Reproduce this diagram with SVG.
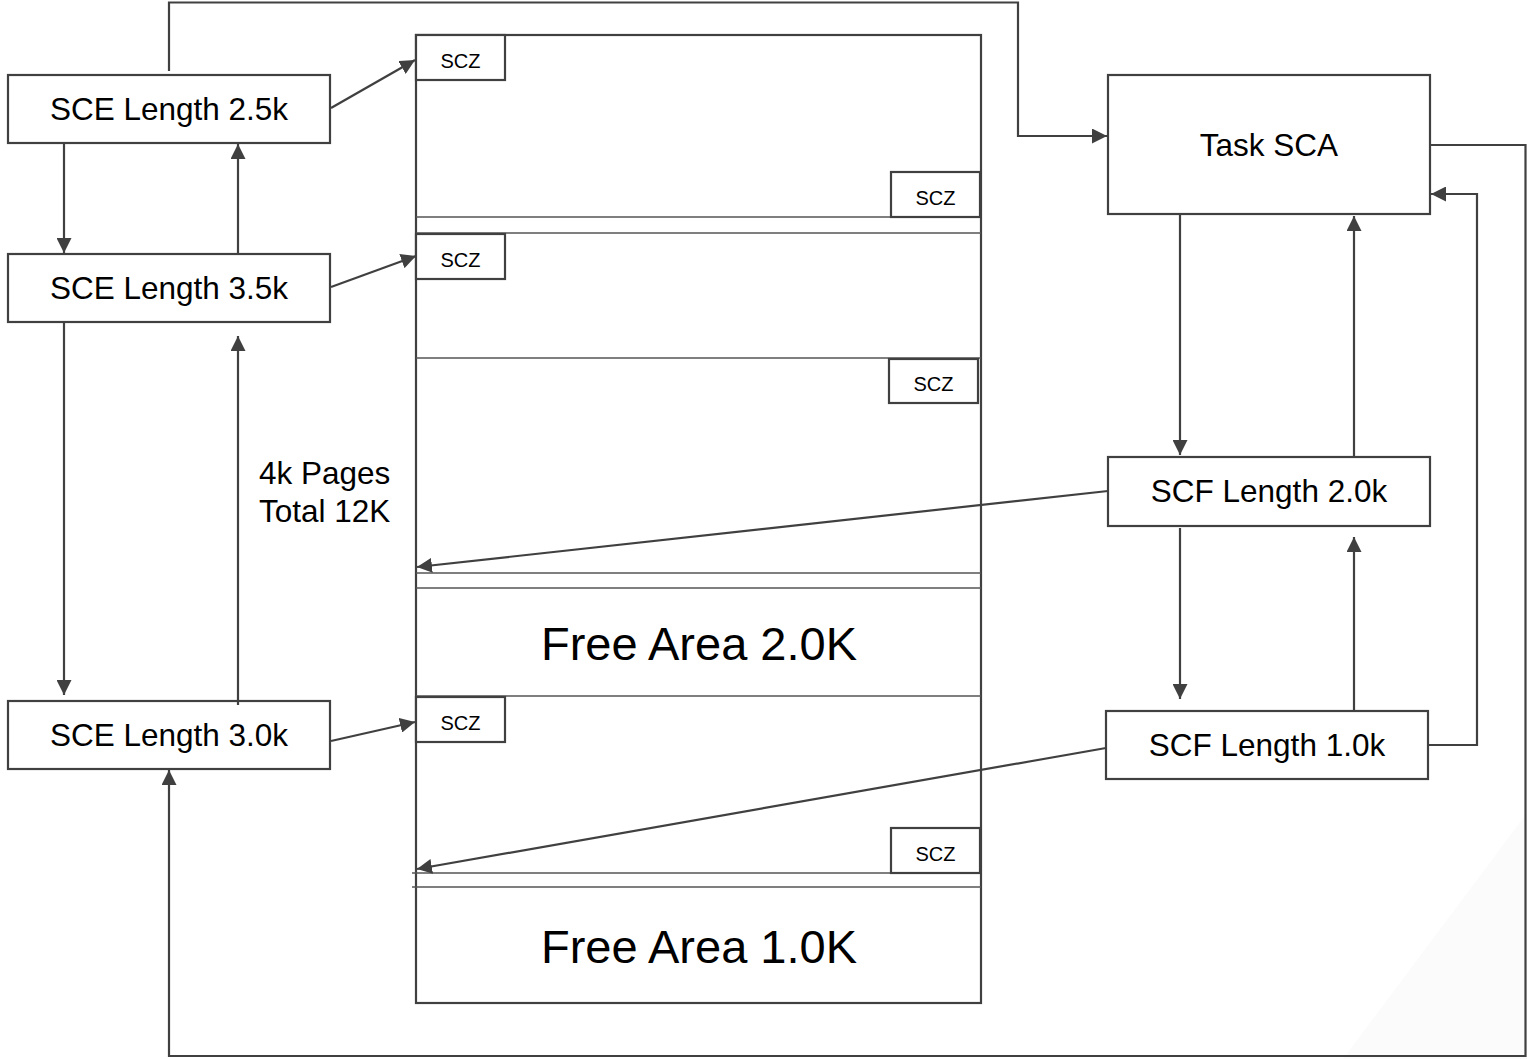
<svg xmlns="http://www.w3.org/2000/svg" width="1527" height="1059" viewBox="0 0 1527 1059">
  <style>
    .box { fill: #ffffff; stroke: #404040; stroke-width: 2.2; }
    .lbl { font-family: "Liberation Sans", Arial, sans-serif; font-size: 31.5px; fill: #000000; text-anchor: middle; }
    .note { font-family: "Liberation Sans", Arial, sans-serif; font-size: 31.5px; fill: #000000; }
    .scz { font-family: "Liberation Sans", Arial, sans-serif; font-size: 20px; fill: #000000; text-anchor: middle; }
    .free { font-family: "Liberation Sans", Arial, sans-serif; font-size: 47px; fill: #000000; text-anchor: middle; }
    .sep { stroke: #555555; stroke-width: 1.5; fill: none; }
    .conn { fill: none; stroke: #404040; stroke-width: 2.2; marker-end: url(#arr); }
  </style>
  <defs>
    <marker id="arr" markerUnits="userSpaceOnUse" markerWidth="15" markerHeight="15" refX="15" refY="7.5" orient="auto">
      <path d="M0,0 L15,7.5 L0,15 Z" fill="#404040"/>
    </marker>
  </defs>

  <rect width="1527" height="1059" fill="#ffffff"/>
  <!-- faint corner shading -->
  <polygon points="1527,813 1527,1059 1343,1059" fill="#fbfbfb"/>

  <!-- memory column -->
  <g id="memory">
    <rect class="box" x="416" y="35" width="565" height="968"/>
    <line class="sep" x1="416" y1="217" x2="981" y2="217"/>
    <line class="sep" x1="416" y1="233" x2="981" y2="233"/>
    <line class="sep" x1="416" y1="358" x2="981" y2="358"/>
    <line class="sep" x1="416" y1="573" x2="981" y2="573"/>
    <line class="sep" x1="416" y1="588" x2="981" y2="588"/>
    <line class="sep" x1="416" y1="696" x2="981" y2="696"/>
    <line class="sep" x1="412" y1="873" x2="981" y2="873"/>
    <line class="sep" x1="412" y1="887" x2="981" y2="887"/>
    <text class="free" x="699" y="660">Free Area 2.0K</text>
    <text class="free" x="699" y="963">Free Area 1.0K</text>
  </g>

  <g id="scz1"><rect class="box" x="416" y="35" width="89" height="45"/><text class="scz" x="460.5" y="68">SCZ</text></g>
  <g id="scz2"><rect class="box" x="891" y="172" width="89" height="45"/><text class="scz" x="935.5" y="205">SCZ</text></g>
  <g id="scz3"><rect class="box" x="416" y="234" width="89" height="45"/><text class="scz" x="460.5" y="267">SCZ</text></g>
  <g id="scz4"><rect class="box" x="889" y="359" width="89" height="44"/><text class="scz" x="933.5" y="391">SCZ</text></g>
  <g id="scz5"><rect class="box" x="416" y="697" width="89" height="45"/><text class="scz" x="460.5" y="730">SCZ</text></g>
  <g id="scz6"><rect class="box" x="891" y="828" width="89" height="45"/><text class="scz" x="935.5" y="861">SCZ</text></g>

  <!-- SCE chain -->
  <g id="sce25"><rect class="box" x="8" y="75" width="322" height="68"/><text class="lbl" x="169" y="120">SCE Length 2.5k</text></g>
  <g id="sce35"><rect class="box" x="8" y="254" width="322" height="68"/><text class="lbl" x="169" y="299">SCE Length 3.5k</text></g>
  <g id="sce30"><rect class="box" x="8" y="701" width="322" height="68"/><text class="lbl" x="169" y="746">SCE Length 3.0k</text></g>

  <!-- SCF chain and task -->
  <g id="task"><rect class="box" x="1108" y="75" width="322" height="139"/><text class="lbl" x="1269" y="156">Task SCA</text></g>
  <g id="scf20"><rect class="box" x="1108" y="457" width="322" height="69"/><text class="lbl" x="1269" y="502">SCF Length 2.0k</text></g>
  <g id="scf10"><rect class="box" x="1106" y="711" width="322" height="68"/><text class="lbl" x="1267" y="756">SCF Length 1.0k</text></g>

  <g id="pages-note">
    <text class="note" x="259" y="484">4k Pages</text>
    <text class="note" x="259" y="522">Total 12K</text>
  </g>

  <g id="connectors">
    <!-- SCE list links -->
    <path class="conn" d="M64,144 L64,253"/>
    <path class="conn" d="M238,254 L238,144"/>
    <path class="conn" d="M64,323 L64,695"/>
    <path class="conn" d="M238,705 L238,336"/>
    <!-- SCE to memory -->
    <path class="conn" d="M331,108 L415,60"/>
    <path class="conn" d="M331,287 L416,256"/>
    <path class="conn" d="M331,741 L415,722"/>
    <!-- SCE 2.5k to task -->
    <path class="conn" d="M169,71 L169,2.5 L1018,2.5 L1018,136 L1107,136"/>
    <!-- task loop back to SCE 3.0k -->
    <path class="conn" d="M1431,145 L1525.5,145 L1525.5,1056 L169,1056 L169,770"/>
    <!-- SCF list links -->
    <path class="conn" d="M1180,215 L1180,455"/>
    <path class="conn" d="M1354,457 L1354,216"/>
    <path class="conn" d="M1180,528 L1180,699"/>
    <path class="conn" d="M1354,710 L1354,537"/>
    <path class="conn" d="M1429,745 L1477,745 L1477,194 L1431,194"/>
    <!-- SCF to memory -->
    <path class="conn" d="M1108,491 L417,567"/>
    <path class="conn" d="M1106,748 L417,869"/>
  </g>
</svg>
